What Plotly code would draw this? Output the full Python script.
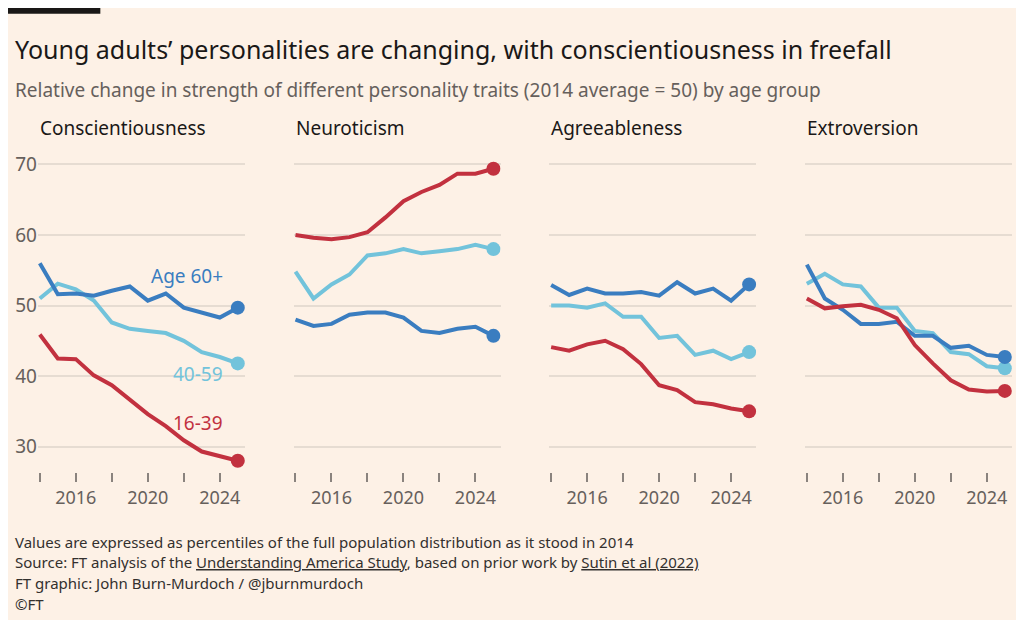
"""
plot.py
──────────────────────
Small multiples: personality traits by age group (2014 average = 50).
Stile FT, carta rosa.
"""

from __future__ import annotations

import plotly.graph_objects as go
from plotly.subplots import make_subplots

# ── Palette colori ────────────────────────────────────────────────────────────
BG_PAPER  = "#FDF1E6"
GRID_CLR  = "#E6DCD2"
MUTED_CLR = "#66605C"
TEXT_CLR  = "#33302E"
DARK_BLUE = "#3A7DC0"
LIGHT_BLU = "#72C3DB"
RED       = "#C2313F"

FONT_FAMILY = "Noto Sans, Arial, sans-serif"

# ── Dati ──────────────────────────────────────────────────────────────────────
YEARS = list(range(2014, 2026))
TRAITS = ["Conscientiousness", "Neuroticism", "Agreeableness", "Extroversion"]

CONSC_60 = [56.0, 51.6, 51.7, 51.4, 52.1, 52.7, 50.7, 51.7, 49.7, 49.0, 48.3, 49.7]
CONSC_40 = [51.0, 53.1, 52.3, 50.7, 47.6, 46.7, 46.4, 46.1, 45.0, 43.4, 42.7, 41.8]
CONSC_16 = [45.9, 42.5, 42.4, 40.1, 38.7, 36.6, 34.6, 32.9, 30.9, 29.3, 28.6, 28.0]

NEURO_60 = [48.0, 47.1, 47.4, 48.7, 49.0, 49.0, 48.3, 46.4, 46.1, 46.7, 47.0, 45.7]
NEURO_40 = [54.8, 51.0, 53.0, 54.4, 57.1, 57.4, 58.0, 57.4, 57.7, 58.0, 58.6, 58.0]
NEURO_16 = [60.0, 59.6, 59.4, 59.7, 60.4, 62.5, 64.8, 66.1, 67.1, 68.7, 68.7, 69.4]

AGREE_60 = [52.9, 51.5, 52.4, 51.7, 51.7, 51.9, 51.4, 53.3, 51.7, 52.4, 50.7, 53.0]
AGREE_40 = [50.0, 50.0, 49.7, 50.3, 48.4, 48.4, 45.4, 45.7, 43.0, 43.6, 42.4, 43.4]
AGREE_16 = [44.1, 43.6, 44.5, 45.0, 43.8, 41.7, 38.7, 38.0, 36.3, 36.0, 35.4, 35.0]

EXTRO_60 = [55.8, 51.0, 49.4, 47.4, 47.4, 47.7, 45.7, 45.7, 44.0, 44.3, 43.0, 42.7]
EXTRO_40 = [53.1, 54.5, 53.0, 52.7, 49.7, 49.7, 46.4, 46.1, 43.4, 43.1, 41.4, 41.1]
EXTRO_16 = [51.0, 49.6, 49.9, 50.1, 49.4, 48.2, 44.4, 41.8, 39.4, 38.1, 37.8, 37.9]

PANELS = [
    (CONSC_60, CONSC_40, CONSC_16),
    (NEURO_60, NEURO_40, NEURO_16),
    (AGREE_60, AGREE_40, AGREE_16),
    (EXTRO_60, EXTRO_40, EXTRO_16),
]
Y_TICKS = [30, 40, 50, 60, 70]
X_TICKS = [2014, 2016, 2018, 2020, 2022, 2024]
X_LABELS = ["", "2016", "", "2020", "", "2024"]


def _add_series(fig: go.Figure, values: list, color: str, col: int) -> None:
    """Linea + pallino finale."""
    fig.add_trace(go.Scatter(
        x=YEARS, y=values, mode="lines",
        line=dict(color=color, width=4),
        hoverinfo="skip", showlegend=False,
    ), row=1, col=col)
    fig.add_trace(go.Scatter(
        x=YEARS[-1:], y=values[-1:], mode="markers",
        marker=dict(color=color, size=14),
        hoverinfo="skip", showlegend=False,
    ), row=1, col=col)


fig = make_subplots(rows=1, cols=4, shared_yaxes=True, horizontal_spacing=0.05)

for i, (s60, s40, s16) in enumerate(PANELS, start=1):
    fig.add_hline(y=50, line=dict(color="#4D4845", width=1.5), row=1, col=i)
    _add_series(fig, s40, LIGHT_BLU, i)
    _add_series(fig, s60, DARK_BLUE, i)
    _add_series(fig, s16, RED, i)
    fig.update_xaxes(
        range=[2013.9, 2025.4], tickvals=X_TICKS, ticktext=X_LABELS,
        ticks="outside", ticklen=9, tickcolor="#8A837E", tickwidth=1.5,
        showgrid=False, zeroline=False, showline=False,
        tickfont=dict(size=18, color=MUTED_CLR), row=1, col=i,
    )

fig.update_yaxes(
    range=[26.4, 71.2], tickvals=Y_TICKS, showgrid=True, gridcolor=GRID_CLR,
    gridwidth=1.5, zeroline=False, showline=False,
    tickfont=dict(size=19, color=MUTED_CLR),
)

# Titoli dei pannelli
for i, trait in enumerate(TRAITS, start=1):
    dom = fig.layout[f"xaxis{'' if i == 1 else i}"].domain
    fig.add_annotation(
        x=dom[0], y=1.04, xref="paper", yref="paper", xanchor="left",
        yanchor="bottom", text=trait, showarrow=False,
        font=dict(size=19, color="#1A1817"),
    )

# Etichette serie
for text, yv, color in [("Age 60+", 54.2, DARK_BLUE), ("40-59", 40.3, LIGHT_BLU),
                        ("16-39", 33.4, RED)]:
    fig.add_annotation(
        x=2024.3, y=yv, xref="x", yref="y", xanchor="right", text=text,
        showarrow=False, font=dict(size=19, color=color),
    )

# Testi intestazione e note
header = [
    ("Young adults’ personalities are changing, with conscientiousness in freefall",
     1.34, 25, "#1A1817"),
    ("Relative change in strength of different personality traits "
     "(2014 average = 50) by age group", 1.21, 19, MUTED_CLR),
]
for text, yv, size, color in header:
    fig.add_annotation(
        x=-0.026, y=yv, xref="paper", yref="paper", xanchor="left", yanchor="middle",
        text=text, showarrow=False, font=dict(size=size, color=color),
    )

footer = [
    "Values are expressed as percentiles of the full population distribution as it stood in 2014",
    "Source: FT analysis of the <u>Understanding America Study</u>, based on prior work by "
    "<u>Sutin et al (2022)</u>",
    "FT graphic: John Burn-Murdoch / @jburnmurdoch",
    "©FT",
]
for k, text in enumerate(footer):
    fig.add_annotation(
        x=-0.026, y=-0.22 - k * 0.066, xref="paper", yref="paper", xanchor="left",
        yanchor="middle", text=text, showarrow=False,
        font=dict(size=15, color=TEXT_CLR),
    )

fig.add_shape(type="rect", xref="paper", yref="paper", x0=-0.031, x1=0.064,
              y0=1.45, y1=1.468, fillcolor="#1A1817", line=dict(width=0))

fig.update_layout(
    paper_bgcolor=BG_PAPER,
    plot_bgcolor=BG_PAPER,
    font=dict(color=TEXT_CLR, family=FONT_FAMILY),
    width=1012,
    height=612,
    margin=dict(l=30, r=8, t=148, b=148),
)

fig.write_html("out.html")
